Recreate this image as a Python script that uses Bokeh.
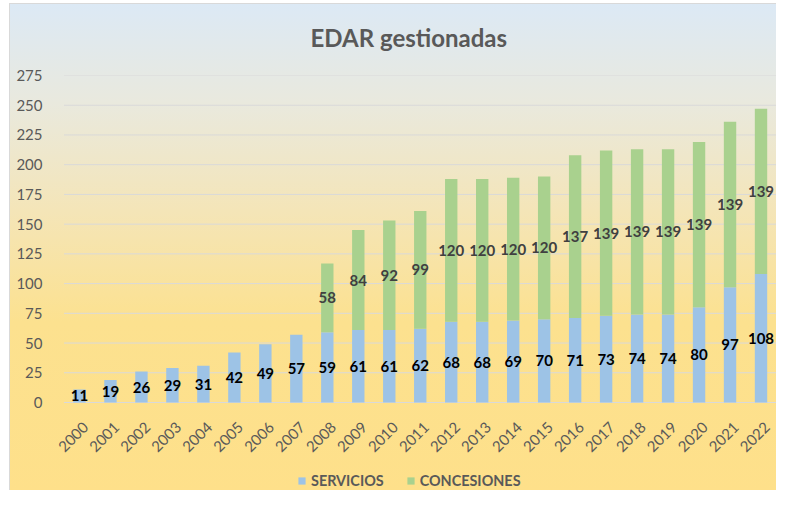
import math
from bokeh.plotting import figure
from bokeh.models import ColumnDataSource, Range1d, FixedTicker, Legend, LegendItem
from bokeh.core.properties import value
from bokeh.embed import file_html
from bokeh.resources import INLINE

years = [str(y) for y in range(2000, 2023)]
servicios = [11, 19, 26, 29, 31, 42, 49, 57, 59, 61, 61, 62, 68, 68, 69, 70, 71, 73, 74, 74, 80, 97, 108]
concesiones = [0, 0, 0, 0, 0, 0, 0, 0, 58, 84, 92, 99, 120, 120, 120, 120, 137, 139, 139, 139, 139, 139, 139]
series = ["SERVICIOS", "CONCESIONES"]
colors = ["#9dc3e6", "#a9d18e"]
y_ticks = [0, 25, 50, 75, 100, 125, 150, 175, 200, 225, 250, 275]

pos = list(range(len(years)))  # category slots
src = ColumnDataSource(dict(pos=pos, year=years, SERVICIOS=servicios, CONCESIONES=concesiones))

# frame spans 75..490 px vertically; 0..275 occupies 327 px, the rest below 0 holds year labels + legend
y_bottom = -(415 * 275 / 327 - 275)
x_end = len(years) - 0.5
x_start = -0.5 - 13.5 / 31.0
p = figure(x_range=Range1d(x_start, x_end), y_range=Range1d(y_bottom, 275),
           width=776, height=490, output_backend="svg", toolbar_location=None,
           min_border=0, min_border_left=50, min_border_right=0, min_border_top=75, min_border_bottom=0)
grad = "linear-gradient(to bottom, #dce9f5 0%, #e9e9de 20%, #f4e5b8 42%, #fce18f 65%, #fee08a 100%)"
p.styles = {"background": ("linear-gradient(#d9d9d9,#d9d9d9) 9px 3px / 1px 100% no-repeat, "
                           "linear-gradient(#d9d9d9,#d9d9d9) 9px 3px / 100% 1px no-repeat, "
                           + grad + " 10px 4px / 100% 100% no-repeat, #ffffff")}
p.background_fill_alpha = 0
p.border_fill_alpha = 0
p.outline_line_color = None

p.title.text = "EDAR gestionadas"
p.title.align = "left"
p.title.offset = 260
p.title.vertical_align = "top"
p.title.text_font = "Lato"
p.title.text_font_size = "24px"
p.title.text_font_style = "bold"
p.title.text_color = "#595959"
p.title.standoff = 44

# horizontal gridlines across the category area only
p.segment(x0=[-0.5] * len(y_ticks), x1=[x_end] * len(y_ticks), y0=y_ticks, y1=y_ticks,
          line_color="#d9d9d9", line_width=1)

rs = p.vbar_stack(series, x="pos", width=0.4, color=colors, source=src, line_color=None)

# data labels
smid = [s / 2 for s in servicios]
cx = [x for x, c in zip(pos, concesiones) if c > 0]
cmid = [s + c / 2 for s, c in zip(servicios, concesiones) if c > 0]
ctxt = [str(c) for c in concesiones if c > 0]
p.text(x=pos, y=smid, text=[str(s) for s in servicios], text_align="center", text_baseline="middle",
       text_font=value("Lato"), text_font_size="15px", text_font_style="bold", text_color="#000000")
p.text(x=cx, y=cmid, text=ctxt, text_align="center", text_baseline="middle",
       text_font=value("Lato"), text_font_size="15px", text_font_style="bold", text_color="#404040")

# category (year) labels, rotated 45 degrees below the zero line
p.text(x=pos, y=[-18.5] * len(years), text=years, angle=math.pi / 4, x_offset=6,
       text_align="right", text_baseline="middle",
       text_font=value("Lato"), text_font_size="15px", text_color="#595959")

p.xaxis.visible = False

p.yaxis.ticker = FixedTicker(ticks=y_ticks)
p.yaxis.axis_line_color = None
p.yaxis.major_tick_line_color = None
p.yaxis.minor_tick_line_color = None
p.yaxis.major_label_text_font = "Lato"
p.yaxis.major_label_text_font_size = "15px"
p.yaxis.major_label_text_color = "#595959"
p.yaxis.major_label_standoff = 2

p.xgrid.grid_line_color = None
p.ygrid.grid_line_color = None

legend = Legend(items=[LegendItem(label=s, renderers=[r]) for s, r in zip(series, rs)],
                orientation="horizontal", location=(247, 1),
                background_fill_alpha=0, border_line_color=None, padding=0, margin=0,
                glyph_width=9, glyph_height=9, label_standoff=5, spacing=22, label_height=12,
                label_text_font="Lato", label_text_font_size="14.4px", label_text_color="#595959",
                label_text_font_style="bold")
p.add_layout(legend, "center")

open("out.html", "w").write(file_html(p, INLINE))
